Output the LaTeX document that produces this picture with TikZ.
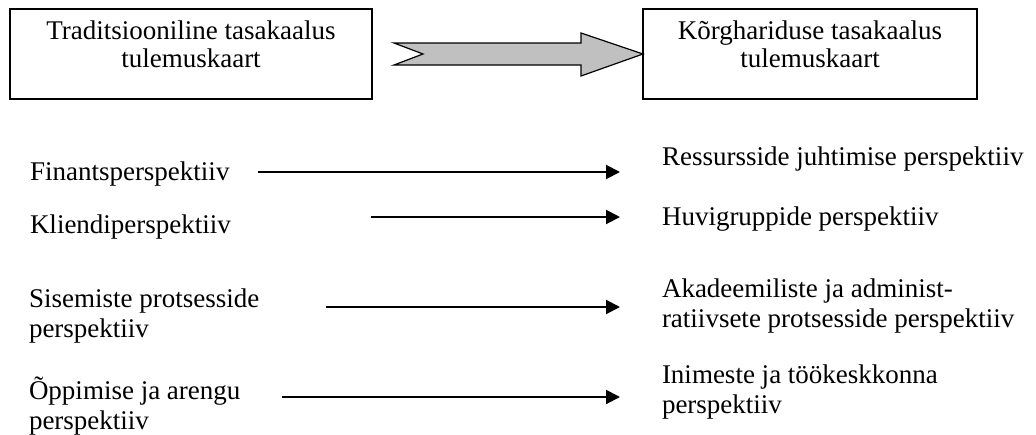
\documentclass[tikz,border=0pt]{standalone}
\usepackage{fontspec}
\setmainfont{Liberation Serif}
\usetikzlibrary{arrows.meta}
\definecolor{shaftgray}{RGB}{192,192,192}
\begin{document}
\begin{tikzpicture}[x=1pt,y=-1pt,
  every node/.style={inner sep=0pt, outer sep=0pt},
  card/.style={draw=black, line width=1.2pt, minimum width=#1,
    text height=30pt, text depth=60pt, anchor=base,
    font=\fontsize{27}{28}\selectfont},
  item/.style={anchor=base west, font=\fontsize{27}{30}\selectfont},
  link/.style={line width=2pt, -{Triangle[length=14pt,width=14pt]}},
  bigarrow/.style={fill=shaftgray, draw=black, line width=1.2pt, line join=miter}]
\useasboundingbox (0,0) rectangle (1036,434);

% the two scorecards
\node[card=362pt] (lbox) at (191,39)
  {\begin{tabular}[t]{@{}c@{}}Traditsiooniline tasakaalus\\tulemuskaart\end{tabular}};
\node[card=334pt] (rbox) at (810,39)
  {\begin{tabular}[t]{@{}c@{}}Kõrghariduse tasakaalus\\tulemuskaart\end{tabular}};

% block arrow between them
\draw[bigarrow] (394,43) -- (581,43) -- (581,33) -- (rbox.west)
  -- (581,76) -- (581,65) -- (394,65) -- (423,54) -- cycle;

% perspectives of the traditional scorecard
\node[item] (l1) at (30,180) {Finantsperspektiiv};
\node[item] (l2) at (30,233) {Kliendiperspektiiv};
\node[item] (l3) at (29,307)
  {\begin{tabular}[t]{@{}l@{}}Sisemiste protsesside\\perspektiiv\end{tabular}};
\node[item] (l4) at (29,399)
  {\begin{tabular}[t]{@{}l@{}}Õppimise ja arengu\\perspektiiv\end{tabular}};

% perspectives of the higher education scorecard
\node[item] (r1) at (662,165) {Ressursside juhtimise perspektiiv};
\node[item] (r2) at (662,225) {Huvigruppide perspektiiv};
\node[item] (r3) at (662,297)
  {\begin{tabular}[t]{@{}l@{}}Akadeemiliste ja administ-\\ratiivsete protsesside perspektiiv\end{tabular}};
\node[item] (r4) at (662,383)
  {\begin{tabular}[t]{@{}l@{}}Inimeste ja töökeskkonna\\perspektiiv\end{tabular}};

% arrow ends
\coordinate (s1) at (258,172); \coordinate (e1) at (620,172);
\coordinate (s2) at (371,217); \coordinate (e2) at (620,217);
\coordinate (s3) at (326,307); \coordinate (e3) at (620,307);
\coordinate (s4) at (282,397); \coordinate (e4) at (620,397);

\draw[link] (s1) -- (e1);
\draw[link] (s2) -- (e2);
\draw[link] (s3) -- (e3);
\draw[link] (s4) -- (e4);
\end{tikzpicture}
\end{document}
